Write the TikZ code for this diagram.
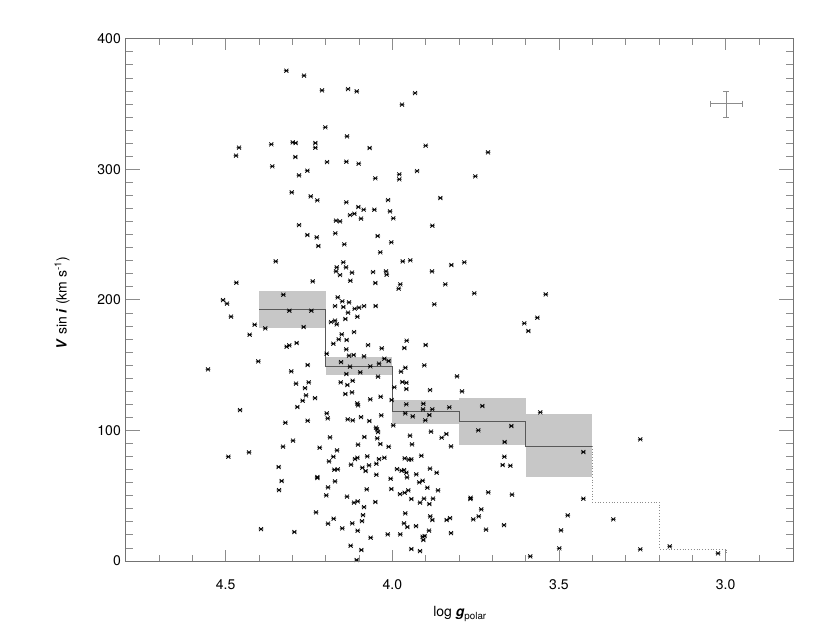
\documentclass[tikz,border=0pt]{standalone}
\usepackage{fontspec}
\setmainfont{TeX Gyre Heros}
\usetikzlibrary{positioning}

\begin{document}
\begin{tikzpicture}[x=1pt, y=-1pt,
    binbox/.style={fill=black!22, draw=none},
    binline/.style={draw=black!65, line width=0.9pt},
    frameline/.style={draw=black!55, line width=0.9pt},
    tickline/.style={draw=black!45, line width=0.8pt},
    ptmark/.style={draw=black, line width=0.7pt},
    ticklabel/.style={font=\fontsize{14}{16}\selectfont, inner sep=0pt}
    ]
        \useasboundingbox (0,0) rectangle (830,641);
        %Bins
        \fill[binbox] (259,291) rectangle (325.7,327.7);
        \fill[binbox] (325.7,357) rectangle (392.3,375);
        \fill[binbox] (392.3,400) rectangle (459,424);
        \fill[binbox] (459,397.7) rectangle (525.7,445);
        \fill[binbox] (525.7,414) rectangle (592.3,477.3);
        \draw[binline] (259,309.3) -- (325.7,309.3) -- (325.7,366.3) -- (392.3,366.3)
            -- (392.3,411.7) -- (459,411.7) -- (459,421) -- (525.7,421)
            -- (525.7,446) -- (592.3,446);
        \draw[tickline, dotted, line width=1pt] (592.3,446) -- (592.3,502.3) -- (659.7,502.3)
            -- (659.7,549) -- (726.7,549) -- (726.7,553);
        %Points
        \foreach \x/\y in {286.3/70.7, 304/75.7, 322/90.3, 348/89, 356.7/91.3, 415/93, 402/104.7,
            325.3/127.3, 347/136.3, 239/147.7, 236/155.7, 271.3/144.3, 292.7/142.3, 295.7/143,
            315.3/143, 315.3/147.7, 369.7/148, 425.7/145.7, 488/152.3, 295.3/157, 272.3/166.3,
            327/162, 346.3/161.7, 358.7/163.7, 299/175.3, 307.3/170.7, 375.3/178.3, 399.3/174.3,
            399.3/179.3, 417/171, 475.3/176.3, 291.7/192.3, 310.7/196.3, 317.3/200.3, 346.3/202.3,
            358.3/207, 363.7/209.7, 374.3/209.7, 388/200, 390/211.3, 440.3/198, 350/215,
            354.3/213.7, 361/218.7, 393.3/218.3, 336/220.7, 340/221.3, 299/225, 432.3/225.7,
            307.3/235, 316.7/237.3, 335.3/233.3, 377.7/236, 391.3/242.3, 318.3/246, 344.3/244.3,
            380.3/252.3, 275.7/261.3, 343.3/262.3, 402.7/261.3, 410.3/260.3, 464.3/262.3,
            451.3/265, 336.7/267.3, 346/267.3, 336/271.3, 340/275, 352/272.7, 373/272,
            386/271.3, 386.7/274.7, 432/271.3, 236.3/282.7, 312.7/281.3, 350.3/280.7,
            375.3/283, 400.3/284.3, 398.7/288.7, 445.3/284.3, 474.3/293.3, 283.3/294.7,
            223/300, 227/303.7, 337.7/297.3, 342.3/301.3, 349/302.3, 335/306, 343.3/307,
            354.7/308.7, 359/307.7, 364/306, 375.7/306, 434.3/304.3,
            289.3/310.7, 311.3/310.7, 231/316.7, 348/312.7, 357.3/316.7, 345.3/319,
            254.7/324.7, 265.3/328.3, 303.7/327, 331/322, 335/320.7, 336.7/324.3,
            249.7/334.7, 341.7/334.3, 354/332, 338.7/339.3, 346.7/340, 333.3/343.7,
            286.7/346.7, 289.3/345.3, 296.7/343, 368/345, 381.7/348.3, 406.7/340.7,
            404.3/348, 425.7/345, 346.3/349.3, 326.7/353.7, 349/355.7, 353.7/355,
            364/356.3, 384.3/358.7, 388.7/361, 379/363.7, 258.3/361.3, 307.7/365,
            341/362, 350/366.7, 370.3/366.3, 208/369.3, 291.3/371.3, 360.3/372.3,
            346.3/374, 378/376.7, 405.3/367.7, 401/371.7, 424.3/365.3, 296/383.7,
            308.7/382.3, 340.7/382.3, 347.3/385, 352.7/380.7, 402.3/382, 406.3/382.7,
            457/376.3, 305/388, 394.3/387.3, 406.3/389, 430/390, 462/391.3, 345.3/394,
            352/392.3, 306/395.3, 302.7/400.7, 315/398, 380.7/396.7, 370.3/399.3,
            391.7/400, 357.3/403.3, 358/405.3, 406.3/404.3, 423.3/403.7, 297.3/407,
            240/410, 423/409.3, 432.3/409.3, 449.3/407.3, 482.3/406, 405.3/413.3,
            412.7/416.3, 429.3/415, 326.7/413.3, 327.7/418.3, 361/417, 347.7/419.3,
            352.7/420.3, 369.3/421, 381.3/415.3, 307.7/420.7, 285.3/422.7, 425.3/420.3,
            393.3/425.3, 376/427.7, 377/429.3, 478.3/430.3, 511.3/426, 378/432,
            431/431.7, 410/435.7, 441.7/437.7, 446.3/434, 504.7/442, 330/437.3,
            364.3/437, 377.3/438.3, 293/440.7, 283/446.7, 358/444.7, 380.3/444,
            388.7/446.7, 412/444.3, 451/446.3, 319.7/447.7, 337/450.3, 249/452.3,
            228.3/456.7, 333.3/456.7, 329/461.3, 355/459, 357.3/457.7, 367.3/456.3,
            379/459, 384.3/457.7, 404.7/458.3, 409/459.7, 411.3/459.3, 421.3/455.7,
            504.3/456.7, 351/464.7, 362.3/467.7, 369/465.3, 376.3/463.7, 502.7/465,
            510.3/465.7, 278.7/467, 334.3/469.7, 337.7/469.3, 365.7/471, 397/469,
            401.7/470.7, 404/470, 406.3/472.7, 416.3/474.3, 430/468.7, 436.7/472.7,
            376.3/474.7, 407/477.3, 317.3/477, 317.3/478, 281.7/481, 335/481.3,
            390.7/478.7, 419.3/482.3, 422.7/480.7, 279/490, 328/487.3, 366.7/489.3,
            391.3/489, 408.3/490.3, 400/494, 404.7/492.7, 427.3/487.7, 438/490.3,
            488.3/492.3, 512/494.7, 326.3/495.3, 347/496.7, 411.3/499, 424/498.7,
            433/498.7, 470.7/497.7, 470.4/499, 354/502.7, 357.7/501.3, 375.3/502,
            420/502.7, 429.3/504, 364/507, 316/512.3, 405.3/513.3, 481.3/509.3,
            363/515, 430.3/516.3, 432.3/520, 446.7/520, 450/518, 473.3/519.3,
            478.7/516.3, 333.7/518.7, 328/523.7, 352.3/523.3, 362/521, 404/523.3,
            407.3/527, 416/526, 504/525, 261/529, 342.3/528.3, 357.7/530.7,
            429/530.7, 486/529.7, 294.3/532, 387.7/534.3, 400.3/534.3, 451/533,
            422.7/536.7, 424.7/536, 423.3/540, 370.7/537.7, 350.7/545.7, 361.3/550,
            411.3/549, 420/551, 356.7/560,
            545.7/294.3, 537.3/317.7, 524.3/323.3, 528.3/331, 540.3/412.3, 640.3/439.3,
            583.3/452, 583.3/498.7, 567.7/515.3, 613.3/519.3, 561/530.3, 559.3/548.3,
            640.3/549.3, 669.7/546.3, 718/553.3, 530.3/556.3}
            \draw[ptmark] (\x,\y) +(-2,-2) -- +(2,2) +(-2,2) -- +(2,-2) +(-2.4,0) -- +(2.4,0);
        %Error bar
        \coordinate (eb) at (726.3,103.7);
        \draw[tickline] (eb) +(-16,0) -- +(16,0) +(0,-12.7) -- +(0,13.3);
        \draw[tickline] (eb) +(-16,-3) -- +(-16,3) +(16,-3) -- +(16,3)
            +(-3,-12.7) -- +(3,-12.7) +(-3,13.3) -- +(3,13.3);
        %Ticks
        \foreach \k in {1,...,19} {
            \pgfmathsetmacro{\tx}{125.7+33.33*\k}
            \pgfmathsetmacro{\tl}{ifthenelse(mod(\k-3,5)==0,11,6)}
            \draw[tickline] (\tx,561) -- ++(0,-\tl);
            \draw[tickline] (\tx,38.8) -- ++(0,\tl);
        }
        \foreach \k in {1,...,39} {
            \pgfmathsetmacro{\ty}{561-13.056*\k}
            \pgfmathsetmacro{\tl}{ifthenelse(mod(\k,10)==0,14,7)}
            \draw[tickline] (125.7,\ty) -- ++(\tl,0);
            \draw[tickline] (793,\ty) -- ++(-\tl,0);
        }
        \draw[frameline] (125.7,38.8) rectangle (793,561);
        %Labels
        \foreach \v/\lab in {4.5/4.5, 4.0/4.0, 3.5/3.5, 3.0/3.0}
            \node[ticklabel] (xl\lab) at ({392.3+333.3*(4-\v)},585) {\lab};
        \foreach \v in {0,100,200,300,400}
            \node[ticklabel, anchor=east] (yl\v) at (121,{561-1.3056*\v}) {\v};
        \node[ticklabel] (xtitle) at (460,614) {log \textit{\textbf{g}}\textsubscript{polar}};
        \node[ticklabel, rotate=90] (ytitle) at (62,303)
            {\textit{\textbf{V}} sin \textit{\textbf{i}} (km s\textsuperscript{-1})};
    \end{tikzpicture}
\end{document}
